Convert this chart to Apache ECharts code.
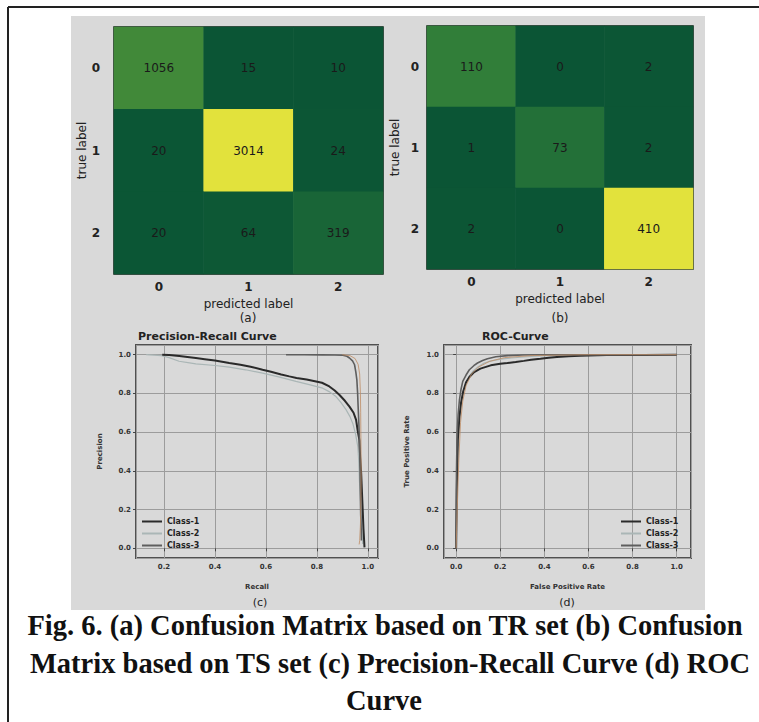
<!DOCTYPE html>
<html>
<head>
<meta charset="utf-8">
<script src="https://cdn.jsdelivr.net/npm/echarts@6/dist/echarts.min.js"></script>
<style>
  html, body { margin: 0; padding: 0; background: #fff; }
  #chart { width: 759px; height: 722px; }
</style>
</head>
<body>
<div id="chart"></div>
<script>
// tick labels of the confusion matrices
const classLabels = ["0", "1", "2"];
// (a) TR set, (b) TS set — rows are true label, columns predicted label
const cmTrain = [
  [1056, 15, 10],
  [20, 3014, 24],
  [20, 64, 319]
];
const cmTest = [
  [110, 0, 2],
  [1, 73, 2],
  [2, 0, 410]
];

const legendNames = ["Class-1", "Class-2", "Class-3"];

// precision-recall curves, [recall, precision]
const prClass1 = [[0.193,1.0],[0.22,0.998],[0.26,0.993],[0.30,0.987],[0.325,0.983],[0.36,0.977],[0.40,0.970],[0.456,0.957],[0.50,0.948],[0.54,0.938],[0.587,0.922],[0.62,0.912],[0.66,0.898],[0.692,0.888],[0.72,0.880],[0.76,0.872],[0.797,0.862],[0.82,0.855],[0.849,0.836],[0.87,0.815],[0.889,0.792],[0.91,0.762],[0.928,0.732],[0.944,0.70],[0.954,0.663],[0.96,0.61],[0.967,0.559],[0.970,0.47],[0.974,0.386],[0.977,0.29],[0.980,0.196],[0.983,0.10],[0.987,0.005]];
const prClass2 = [[0.13,1.0],[0.19,0.995],[0.22,0.985],[0.259,0.966],[0.30,0.958],[0.325,0.953],[0.40,0.944],[0.456,0.936],[0.52,0.922],[0.587,0.905],[0.65,0.885],[0.718,0.862],[0.77,0.845],[0.823,0.827],[0.85,0.808],[0.875,0.784],[0.895,0.752],[0.915,0.715],[0.93,0.68],[0.941,0.645],[0.952,0.59],[0.961,0.524],[0.965,0.44],[0.967,0.351],[0.971,0.26],[0.974,0.178],[0.977,0.10],[0.980,0.022]];
const prClass3 = [[0.679,1.0],[0.75,1.0],[0.82,0.999],[0.87,0.998],[0.902,0.997],[0.918,0.992],[0.928,0.983],[0.94,0.968],[0.948,0.948],[0.953,0.91],[0.957,0.870],[0.960,0.80],[0.962,0.732],[0.965,0.64],[0.967,0.559],[0.969,0.45],[0.970,0.351],[0.971,0.26],[0.972,0.178],[0.974,0.10],[0.975,0.04]];
// faint orange trace that runs along class 3
const prExtra = [[0.90,1.0],[0.93,0.995],[0.95,0.98],[0.962,0.95],[0.968,0.90],[0.971,0.80],[0.972,0.70],[0.973,0.55],[0.974,0.40],[0.973,0.25],[0.971,0.12],[0.968,0.04],[0.966,0.02]];

// ROC curves, [fpr, tpr]
const rocClass1 = [[0,0],[0.003,0.3],[0.0075,0.559],[0.015,0.68],[0.022,0.75],[0.032,0.81],[0.045,0.858],[0.06,0.885],[0.082,0.91],[0.11,0.928],[0.157,0.945],[0.20,0.953],[0.232,0.957],[0.27,0.962],[0.307,0.968],[0.34,0.974],[0.382,0.979],[0.42,0.984],[0.457,0.988],[0.51,0.992],[0.562,0.995],[0.682,0.998],[0.85,0.999],[1.0,1.0]];
const rocClass2 = [[0,0],[0.003,0.30],[0.0105,0.559],[0.016,0.67],[0.022,0.749],[0.032,0.81],[0.045,0.853],[0.06,0.89],[0.075,0.913],[0.10,0.938],[0.127,0.957],[0.16,0.968],[0.202,0.977],[0.25,0.983],[0.307,0.988],[0.36,0.992],[0.412,0.995],[0.5,0.997],[0.682,0.998],[1.0,1.0]];
const rocClass3 = [[0,0],[0.0015,0.386],[0.0045,0.593],[0.009,0.69],[0.015,0.766],[0.022,0.82],[0.030,0.862],[0.045,0.895],[0.06,0.922],[0.08,0.943],[0.097,0.957],[0.12,0.970],[0.142,0.979],[0.18,0.989],[0.232,0.995],[0.30,0.998],[0.382,1.0],[1.0,1.0]];
const rocExtra = [[0,0],[0.005,0.2],[0.012,0.45],[0.02,0.65],[0.03,0.76],[0.045,0.84],[0.07,0.9],[0.1,0.935],[0.15,0.965],[0.22,0.985],[0.35,0.996],[0.6,1.0],[1.0,1.0]];

const captionLines = [
  "Fig. 6. (a) Confusion Matrix based on TR set (b) Confusion",
  "Matrix based on TS set (c) Precision-Recall Curve (d) ROC",
  "Curve"
];

const heatColors = ["#0b5535", "#2d7b39", "#619e3a", "#a1c03b", "#e2e23c"];
const lineColors = ["#2a2a2a", "#aab6b6", "#5e5e5e"];
const extraColor = "rgba(190,140,100,0.8)";

function toCells(matrix) {
  // heatmap wants [x, y, value]
  return matrix.flatMap((row, i) => row.map((v, j) => [j, i, v]));
}

const tickFont = { fontFamily: "DejaVu Sans", fontSize: 12, fontWeight: "bold", color: "#222" };
const nameFont = { fontFamily: "DejaVu Sans", fontSize: 12, color: "#222" };
const smallFont = { fontFamily: "DejaVu Sans", fontSize: 7, fontWeight: "bold", color: "#333" };

function heatX(grid) {
  return {
    type: "category", gridIndex: grid, data: classLabels, position: "bottom",
    name: "predicted label", nameLocation: "middle", nameGap: 24,
    nameTextStyle: nameFont,
    axisLine: { show: false },
    axisTick: { alignWithLabel: true, length: 4, lineStyle: { color: "#333" } },
    axisLabel: Object.assign({ margin: 7 }, tickFont),
    splitLine: { show: false }
  };
}
function heatY(grid, labelMargin) {
  return {
    type: "category", gridIndex: grid, data: classLabels, inverse: true,
    name: "true label", nameLocation: "middle", nameGap: 26,
    nameTextStyle: nameFont,
    axisLine: { show: false },
    axisTick: { alignWithLabel: true, length: 4, lineStyle: { color: "#333" } },
    axisLabel: Object.assign({ margin: labelMargin }, tickFont),
    splitLine: { show: false }
  };
}
function curveAxis(grid, min, max, name, gap) {
  return {
    type: "value", gridIndex: grid, min: min, max: max, splitNumber: 5,
    name: name, nameLocation: "middle", nameGap: gap,
    nameTextStyle: smallFont,
    axisLine: { show: false },
    axisTick: { length: 3, lineStyle: { color: "#444" } },
    axisLabel: Object.assign({
      margin: 5, showMinLabel: false, showMaxLabel: false,
      formatter: v => (Math.abs(v * 5 - Math.round(v * 5)) < 1e-6 ? v.toFixed(1) : "")
    }, smallFont),
    splitLine: { lineStyle: { color: "#9c9c9c", width: 1 } }
  };
}

function curve(name, data, x, color, width, z) {
  return {
    name: name, type: "line", xAxisIndex: x, yAxisIndex: x, data: data,
    showSymbol: false, symbol: "none", z: z,
    lineStyle: { color: color, width: width },
    itemStyle: { color: color }
  };
}

const chart = echarts.init(document.getElementById("chart"), null, { renderer: "svg" });

const legendText = { fontFamily: "DejaVu Sans", fontSize: 8, fontWeight: "bold", color: "#222", lineHeight: 9 };

const option = {
  animation: false,
  backgroundColor: "#fff",
  title: [
    { text: "Precision-Recall Curve", left: 133, top: 326,
      textStyle: { fontFamily: "DejaVu Sans", fontSize: 11, fontWeight: "bold", color: "#222" } },
    { text: "ROC-Curve", left: 477, top: 326,
      textStyle: { fontFamily: "DejaVu Sans", fontSize: 11, fontWeight: "bold", color: "#222" } }
  ],
  grid: [
    { left: 114, top: 27, width: 269, height: 247, show: true, borderColor: "#0d1f15", borderWidth: 1.5, backgroundColor: "transparent" },
    { left: 427, top: 26, width: 266, height: 243, show: true, borderColor: "#0d1f15", borderWidth: 1.5, backgroundColor: "transparent" },
    { left: 136, top: 345, width: 242, height: 213, show: true, borderColor: "#505050", borderWidth: 2, backgroundColor: "transparent" },
    { left: 444, top: 345, width: 247, height: 213, show: true, borderColor: "#505050", borderWidth: 2, backgroundColor: "transparent" }
  ],
  xAxis: [
    heatX(0), heatX(1),
    curveAxis(2, 0.09, 1.04, "Recall", 25),
    curveAxis(3, -0.055, 1.065, "False Positive Rate", 25)
  ],
  yAxis: [
    heatY(0, 14), heatY(1, 8),
    curveAxis(2, -0.05, 1.05, "Precision", 33),
    curveAxis(3, -0.05, 1.05, "True Positive Rate", 34)
  ],
  visualMap: [
    { type: "continuous", seriesIndex: 0, min: 10, max: 3014, show: false, inRange: { color: heatColors } },
    { type: "continuous", seriesIndex: 1, min: 0, max: 410, show: false, inRange: { color: heatColors } }
  ],
  legend: [
    { data: legendNames, orient: "vertical", left: 142, top: 517, padding: 0, itemGap: 3,
      icon: "rect", itemWidth: 20, itemHeight: 2, selectedMode: false, textStyle: legendText },
    { data: legendNames, orient: "vertical", left: 621, top: 517, padding: 0, itemGap: 3,
      icon: "rect", itemWidth: 20, itemHeight: 2, selectedMode: false, textStyle: legendText }
  ],
  series: [
    { type: "heatmap", xAxisIndex: 0, yAxisIndex: 0, data: toCells(cmTrain),
      label: { show: true, fontFamily: "DejaVu Sans", fontSize: 12, color: "#1a1a1a" } },
    { type: "heatmap", xAxisIndex: 1, yAxisIndex: 1, data: toCells(cmTest),
      label: { show: true, fontFamily: "DejaVu Sans", fontSize: 12, color: "#1a1a1a" } },
    curve("Class-2", prClass2, 2, lineColors[1], 1.2, 3),
    curve("Class-1", prClass1, 2, lineColors[0], 2, 4),
    curve("Class-3", prClass3, 2, lineColors[2], 1.6, 5),
    curve("extra-pr", prExtra, 2, extraColor, 1, 6),
    curve("Class-2", rocClass2, 3, lineColors[1], 1.2, 3),
    curve("Class-1", rocClass1, 3, lineColors[0], 2, 4),
    curve("Class-3", rocClass3, 3, lineColors[2], 1.6, 5),
    curve("extra-roc", rocExtra, 3, extraColor, 1, 6)
  ],
  graphic: [
    // grey figure panel behind the four plots
    { type: "rect", z: -10, silent: true, shape: { x: 71, y: 16, width: 634, height: 594 }, style: { fill: "#d9d9d9" } },
    // page frame (left and top edges)
    { type: "line", z: -5, silent: true, shape: { x1: 8, y1: 7, x2: 8, y2: 722 }, style: { stroke: "#222", lineWidth: 2 } },
    { type: "line", z: -5, silent: true, shape: { x1: 8, y1: 7, x2: 759, y2: 7 }, style: { stroke: "#222", lineWidth: 2 } },
    { type: "text", x: 248, y: 318, style: { text: "(a)", fontFamily: "DejaVu Sans", fontSize: 12, fill: "#222", align: "center", verticalAlign: "middle" } },
    { type: "text", x: 560, y: 318, style: { text: "(b)", fontFamily: "DejaVu Sans", fontSize: 12, fill: "#222", align: "center", verticalAlign: "middle" } },
    { type: "text", x: 260, y: 602, style: { text: "(c)", fontFamily: "DejaVu Sans", fontSize: 11, fill: "#222", align: "center", verticalAlign: "middle" } },
    { type: "text", x: 567, y: 602, style: { text: "(d)", fontFamily: "DejaVu Sans", fontSize: 11, fill: "#222", align: "center", verticalAlign: "middle" } },
    { type: "text", x: 385, y: 625, style: { text: captionLines[0], fontFamily: "Liberation Serif", fontWeight: "bold", fontSize: 28.5, fill: "#111", align: "center", verticalAlign: "middle" } },
    { type: "text", x: 390, y: 663, style: { text: captionLines[1], fontFamily: "Liberation Serif", fontWeight: "bold", fontSize: 28.5, fill: "#111", align: "center", verticalAlign: "middle" } },
    { type: "text", x: 384, y: 700, style: { text: captionLines[2], fontFamily: "Liberation Serif", fontWeight: "bold", fontSize: 28.5, fill: "#111", align: "center", verticalAlign: "middle" } }
  ]
};

chart.setOption(option);
</script>
</body>
</html>
